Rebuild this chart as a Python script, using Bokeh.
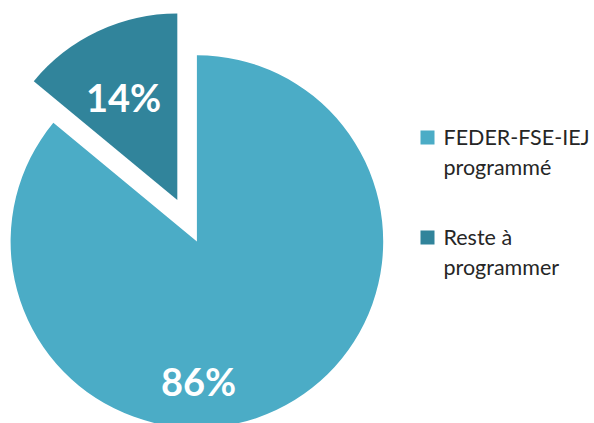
from bokeh.plotting import figure
from bokeh.embed import file_html
from bokeh.resources import INLINE
from bokeh.core.properties import value
import math

categories = ["FEDER-FSE-IEJ\nprogrammé", "Reste à\nprogrammer"]
values = [86, 14]
colors = ["#4BACC6", "#31849B"]

W, H = 594, 423
p = figure(width=W, height=H, x_range=(0, W), y_range=(0, H),
           output_backend="svg", toolbar_location=None, min_border=0)
p.axis.visible = False
p.grid.visible = False
p.outline_line_color = None
p.background_fill_color = "white"

def Y(py):
    return H - py

cx, cy, r = 196.4, 241.0, 186.3
explode = [0.0, 46.0]
label_font = value("Lato")
label_pos = [(198, 380), (123, 96)]

total = sum(values)
cum = 0.0
for i, v in enumerate(values):
    a0 = 90 - (cum + v) / total * 360
    a1 = 90 - cum / total * 360
    cum += v
    mid = math.radians((a0 + a1) / 2)
    ox = cx + explode[i] * math.cos(mid)
    oy = Y(cy) + explode[i] * math.sin(mid)
    p.wedge(x=[ox], y=[oy], radius=r, start_angle=[math.radians(a0)],
            end_angle=[math.radians(a1)], fill_color=colors[i], line_color=None)
    lx, ly = label_pos[i][0], Y(label_pos[i][1])
    p.text(x=[lx], y=[ly], text=[f"{v}%"], text_font=label_font,
           text_font_style="bold", text_font_size="38px", text_color="white",
           text_align="center", text_baseline="middle")

# legend
leg_x, leg_tx = 427, 443
leg_baselines = [144, 244]
text_shift = -8
line_h = 30.5
for i, lab in enumerate(categories):
    b = leg_baselines[i]
    p.rect(x=[leg_x], y=[Y(b - 7)], width=14, height=14,
           fill_color=colors[i], line_color=None)
    for j, line in enumerate(lab.split("\n")):
        p.text(x=[leg_tx], y=[Y(b + text_shift + j * line_h)], text=[line],
               text_font=label_font, text_font_size="21.5px", text_color="#262626",
               text_align="left", text_baseline="alphabetic")

open("out.html", "w").write(file_html(p, INLINE))
